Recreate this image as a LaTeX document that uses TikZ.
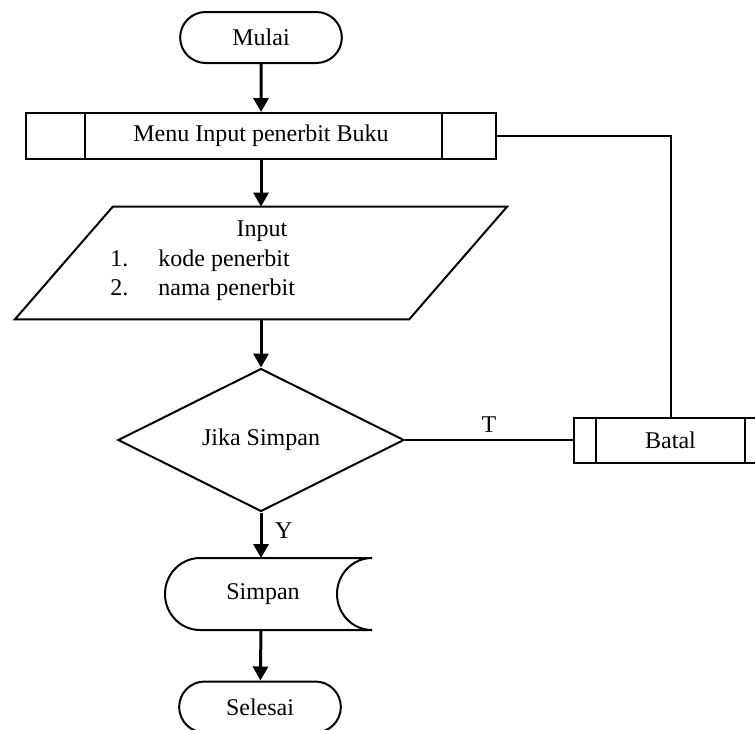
\documentclass[tikz,border=0pt]{standalone}
\usepackage{fontspec}
\setmainfont{Liberation Serif}
\usetikzlibrary{shapes.geometric, shapes.misc, arrows.meta, calc}

\begin{document}
\begin{tikzpicture}[x=0.5pt, y=-0.5pt, font=\fontsize{12}{14}\selectfont,
  terminal/.style={rounded rectangle, draw, line width=1pt, minimum width=87.5pt, minimum height=25.5pt},
  process/.style={rectangle, draw, line width=1pt},
  io/.style={rectangle, minimum width=196.75pt, minimum height=56pt},
  decision/.style={diamond, draw, line width=1pt, minimum width=143pt, minimum height=71.5pt, inner sep=0pt},
  plain/.style={inner sep=0pt, anchor=base west},
  flow/.style={line width=1.5pt, -{Triangle[length=7pt, width=7.5pt]}},
  link/.style={line width=1pt}]
\useasboundingbox (0,0) rectangle (755,729);

% Nodes
\node[terminal] (mulai) at (261,37.5) {Mulai};
\node[process, minimum width=235pt, minimum height=23pt] (menu) at (261,136) {Menu Input penerbit Buku};
\node[io] (input) at (261,263) {};
\node[decision] (jika) at (261,440) {Jika Simpan};
\node[process, minimum width=96.5pt, minimum height=22.5pt] (batal) at (670.5,440) {Batal};
\node (simpan) at (263,594) {Simpan};
\node[terminal] (selesai) at (260,707) {Selesai};

% Inner lines of the process boxes
\draw[link] ($(menu.north west)+(60,0)$) -- ($(menu.south west)+(60,0)$);
\draw[link] ($(menu.north east)+(-55,0)$) -- ($(menu.south east)+(-55,0)$);
\draw[link] ($(batal.north west)+(23,0)$) -- ($(batal.south west)+(23,0)$);
\draw[link] ($(batal.north east)+(-23,0)$) -- ($(batal.south east)+(-23,0)$);

% Parallelogram of the input
\draw[link] ($(input.north west)+(49,0)$) -- ($(input.north east)+(49,0)$)
  -- ($(input.south east)+(-49,0)$) -- ($(input.south west)+(-49,0)$) -- cycle;
\node (inputtitle) at (262,231) {Input};
\node[plain] (nomor1) at (110,266) {1.};
\node[plain] (isi1) at (158,266) {kode penerbit};
\node[plain] (nomor2) at (110,295) {2.};
\node[plain] (isi2) at (158,295) {nama penerbit};

% Stored data outline
\draw[link, shift={(simpan.center)}] (109,-36) -- (-63,-36)
  arc[start angle=90, end angle=270, x radius=17.5pt, y radius=18pt] -- (109,36)
  arc[start angle=270, end angle=90, x radius=17.5pt, y radius=18pt];

% Arrows
\draw[flow] (mulai) -- (menu);
\draw[flow] (menu) -- (input);
\draw[flow] (input) -- (jika);
\draw[flow] (jika) -- node[pos=0.4, right=3pt] {Y} (jika |- 0,558);
\draw[flow] (jika |- 0,630) -- (selesai);
\draw[link] (jika.east) -- node[above] {T} (batal.west);
\draw[link] (batal.north) |- (menu.east);
\end{tikzpicture}
\end{document}
